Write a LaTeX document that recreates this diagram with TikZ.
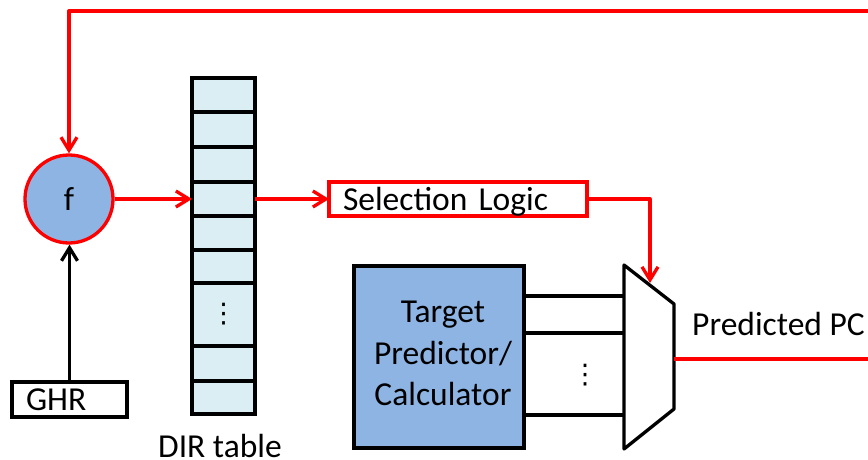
\documentclass[tikz,border=0pt]{standalone}
\usepackage{fontspec}
\setmainfont{Carlito}
\newfontfamily\dejavu{DejaVu Sans}
\usetikzlibrary{arrows.meta}
\definecolor{myred}{HTML}{FF0000}
\definecolor{fblue}{HTML}{8EB4E3}
\definecolor{tblue}{HTML}{DBEEF4}
\begin{document}
\begin{tikzpicture}[x=1pt,y=-1pt,
  lw/.style={line width=3.3pt},
  redline/.style={draw=myred, lw, line join=round},
  blk/.style={draw=black, lw, line join=round},
  tip/.style={-{Straight Barb[length=13pt,width=16pt]}},
  bigfont/.style={font=\fontsize{33.5}{40}\selectfont},
  cell/.style={draw=black, lw, fill=tblue, minimum width=63pt, inner sep=0pt, outer sep=0pt},
  lbox/.style={rectangle, lw, inner xsep=14pt, inner ysep=0pt, outer sep=0pt, align=left, text height=22pt, text depth=0pt, bigfont},
  vdotsnode/.style={font=\dejavu\fontsize{27}{30}\selectfont, inner sep=0pt}]
\useasboundingbox (0,0) rectangle (868,460);

% f circle
\node[circle, draw=myred, lw, fill=fblue, minimum size=88pt, inner sep=0pt, bigfont] (f) at (69,199) {f};

% GHR
\node[lbox, draw=black, minimum width=115pt, minimum height=35pt, text width=87pt] (ghr) at (69.5,399.5) {GHR};

% DIR table
\node[cell, minimum height=34pt] (c1) at (223.5,95) {};
\node[cell, minimum height=35pt] (c2) at (223.5,129.5) {};
\node[cell, minimum height=35pt] (c3) at (223.5,164.5) {};
\node[cell, minimum height=34pt] (c4) at (223.5,199) {};
\node[cell, minimum height=34pt] (c5) at (223.5,233) {};
\node[cell, minimum height=33pt] (c6) at (223.5,266.5) {};
\node[cell, minimum height=63pt] (c7) at (223.5,314.5) {};
\node[cell, minimum height=35pt] (c8) at (223.5,363.5) {};
\node[cell, minimum height=33pt] (c9) at (223.5,397.5) {};
\node[vdotsnode] (tdots) at (c7.center) {⋮};
\node[bigfont, inner sep=0pt, anchor=base] (dirlbl) at (220,457) {DIR table};

% Selection logic
\node[lbox, draw=myred, minimum width=258pt, minimum height=34pt, text width=230pt] (sel) at (458,199) {Selection Logic};

% Target predictor
\node[rectangle, draw=black, lw, fill=fblue, minimum width=170pt, minimum height=182pt, inner sep=0pt, outer sep=0pt, align=center, font=\fontsize{33.5}{41.5}\selectfont] (tp) at (439,357) {};
\node[align=center, inner sep=0pt, font=\fontsize{33.5}{41.5}\selectfont] (tptext) at (443,353.5) {Target\\Predictor/\\Calculator};

% Mux
\coordinate (m1) at (624,265);
\coordinate (m2) at (674,304);
\coordinate (m3) at (674,409);
\coordinate (m4) at (624,449);
\draw[blk, fill=white] (m1) -- (m2) -- (m3) -- (m4) -- cycle;
\coordinate (in1) at (624,296);
\coordinate (in2) at (624,333);
\coordinate (in3) at (624,415);
\coordinate (sel in) at (650,283);
\coordinate (mout) at (674,359);
\node[vdotsnode] (mdots) at (585,375) {⋮};

\draw[blk] (tp.east |- in1) -- (in1);
\draw[blk] (tp.east |- in2) -- (in2);
\draw[blk] (tp.east |- in3) -- (in3);

% Output
\coordinate (pcend) at (868,359);
\draw[redline] (mout) -- (pcend);
\node[bigfont, inner sep=0pt, anchor=west] (pclbl) at (692,324) {Predicted PC};

% Feedback
\coordinate (fb) at (868,11);
\draw[redline, tip] (fb) -- (fb -| f.north) -- (f.north);

% Connections
\draw[blk, tip] (ghr.north) -- (ghr.north |- f.south);
\draw[redline, tip] (f.east) -- (c4.west);
\draw[redline, tip] (c4.east) -- (sel.west);
\draw[redline, tip] (sel.east) -- (sel.east -| sel in) -- (sel in);
\end{tikzpicture}
\end{document}
